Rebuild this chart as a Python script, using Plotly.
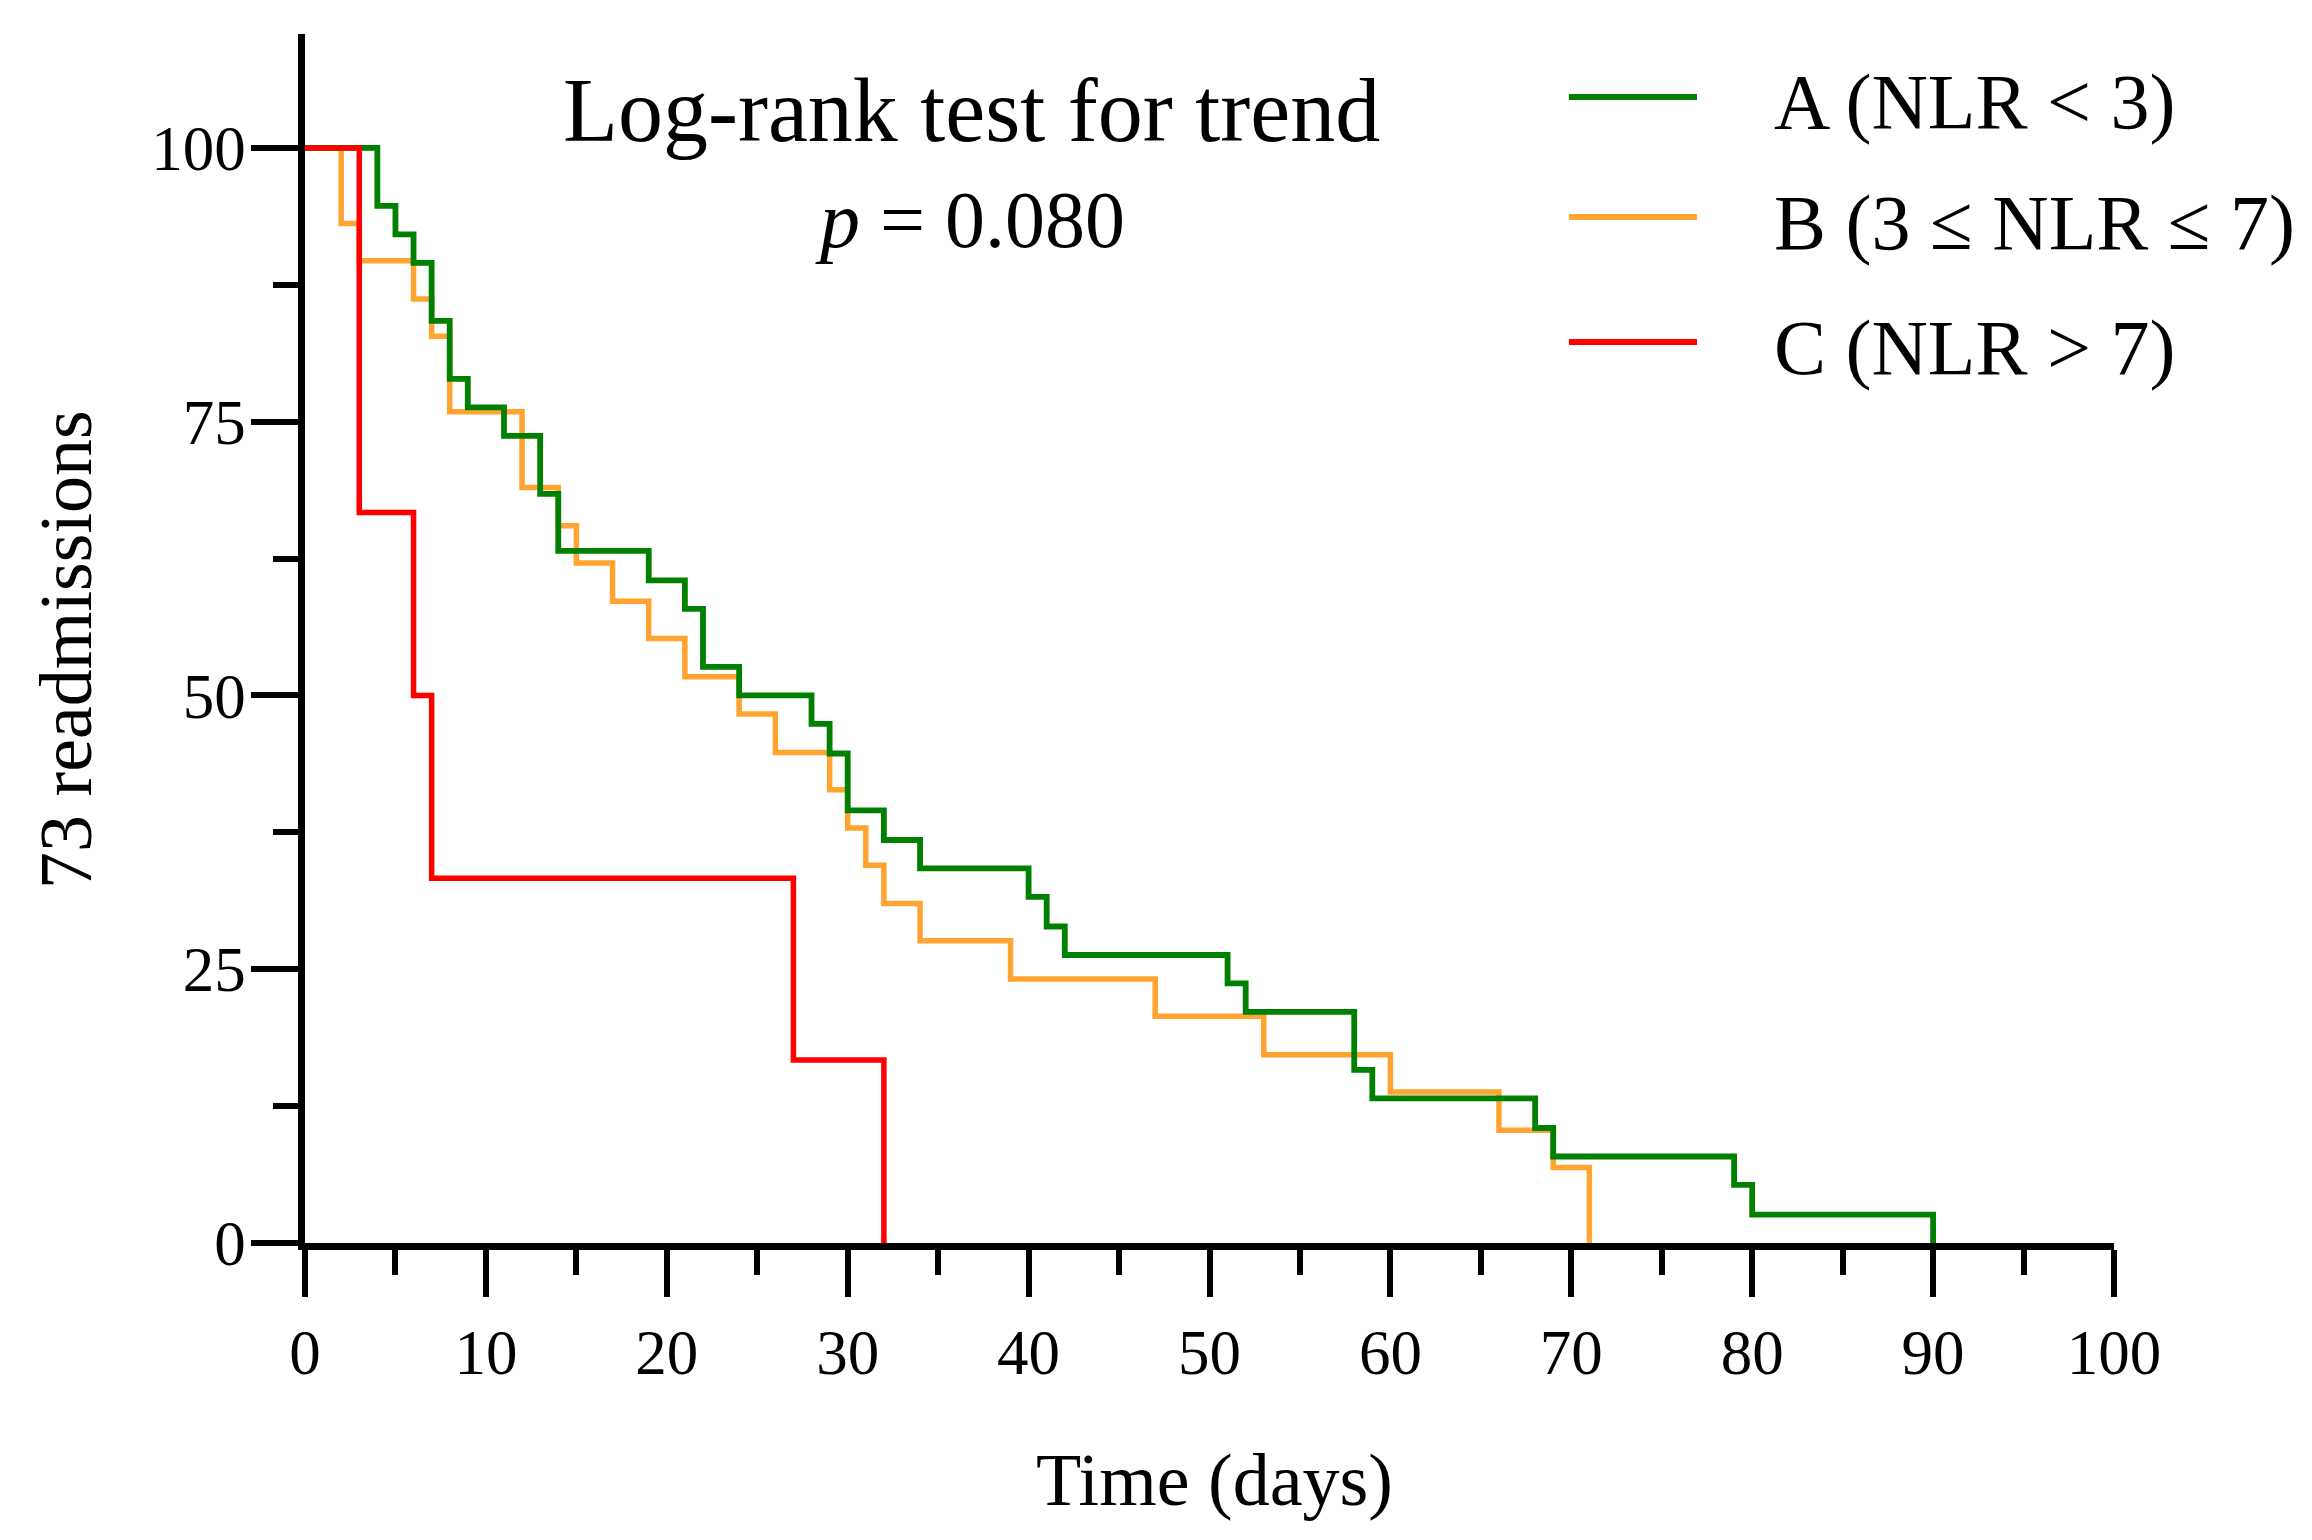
import plotly.graph_objects as go

# Kaplan-Meier style step data (time in days, % not yet readmitted)
tA = [0, 4, 5, 6, 7, 8, 9, 11, 13, 14, 19, 21, 22, 24, 28, 29, 30, 32, 34, 40, 41, 42, 51, 52, 58, 59, 68, 69, 79, 80, 90]
sA = [100, 94.7, 92.1, 89.5, 84.2, 78.9, 76.3, 73.7, 68.4, 63.2, 60.5, 57.9, 52.6, 50.0, 47.4, 44.7, 39.5, 36.8, 34.2,
      31.6, 28.9, 26.3, 23.7, 21.1, 15.8, 13.2, 10.5, 7.9, 5.3, 2.6, 0]

tB = [0, 2, 3, 6, 7, 8, 12, 14, 15, 17, 19, 21, 24, 26, 29, 30, 31, 32, 34, 39, 47, 53, 60, 66, 69, 71]
sB = [100, 93.1, 89.7, 86.2, 82.8, 75.9, 69.0, 65.5, 62.1, 58.6, 55.2, 51.7, 48.3, 44.8, 41.4, 37.9, 34.5, 31.0, 27.6,
      24.1, 20.7, 17.2, 13.8, 10.3, 6.9, 0]

tC = [0, 3, 6, 7, 27, 32]
sC = [100, 66.7, 50.0, 33.3, 16.7, 0]

names = ["A (NLR < 3)", "B (3 ≤ NLR ≤ 7)", "C (NLR > 7)"]
colors = ["#008000", "#FFA431", "#FF0000"]
widths = [5.8, 5.5, 5.5]

FONT = "Liberation Serif"

fig = go.Figure()
# draw order: B, A, C (A over B, C on top)
for idx, (t, s) in [(1, (tB, sB)), (0, (tA, sA)), (2, (tC, sC))]:
    fig.add_trace(go.Scatter(x=t, y=s, mode="lines", line_shape="hv",
                             line=dict(color=colors[idx], width=widths[idx]),
                             name=names[idx], showlegend=False))

# page is 2312x1540; the html body has an 8px margin, so the figure is 8px smaller
OFF = 8
W, H = 2312 - OFF, 1540 - OFF
L, R, T, B = 305, 2114, 34, 1243   # target plot-area edges in page pixels

def px(xp):
    return (xp - L) / (R - L)

def py(yp):
    return (B - yp) / (B - T)

# manual legend
legend_rows = [97, 217, 342]
for i, yp in enumerate(legend_rows):
    fig.add_shape(type="line", xref="paper", yref="paper",
                  x0=px(1569), x1=px(1697), y0=py(yp), y1=py(yp),
                  line=dict(color=colors[i], width=6))
    fig.add_annotation(xref="paper", yref="paper", x=px(1772), y=py(yp + 5),
                       xanchor="left", yanchor="middle", showarrow=False,
                       text=names[i], font=dict(family=FONT, size=78, color="black"))

fig.add_annotation(xref="paper", yref="paper", x=px(971), y=py(110),
                   xanchor="center", yanchor="middle", showarrow=False,
                   text="Log-rank test for trend", font=dict(family=FONT, size=90, color="black"))
fig.add_annotation(xref="paper", yref="paper", x=px(970), y=py(220),
                   xanchor="center", yanchor="middle", showarrow=False,
                   text="<i>p</i> = 0.080", font=dict(family=FONT, size=80, color="black"))

# axis titles
fig.add_annotation(xref="paper", yref="paper", x=px(66), y=py(649),
                   xanchor="center", yanchor="middle", showarrow=False, textangle=-90,
                   text="73 readmissions", font=dict(family=FONT, size=74, color="black"))
fig.add_annotation(xref="paper", yref="paper", x=px(1214), y=py(1480),
                   xanchor="center", yanchor="middle", showarrow=False,
                   text="Time (days)", font=dict(family=FONT, size=74, color="black"))

axis_common = dict(showgrid=False, zeroline=False, showline=True, linecolor="black", linewidth=6.5,
                   ticks="outside", ticklen=47, tickwidth=5.5, tickcolor="black",
                   tickfont=dict(family=FONT, size=63, color="black"))

fig.update_xaxes(range=[0, 100], tick0=0, dtick=10,
                 minor=dict(ticks="outside", ticklen=25, tickwidth=5.5, tickcolor="black", tick0=0, dtick=5),
                 ticklabelstandoff=2, **axis_common)
fig.update_yaxes(range=[0, 110.4], tick0=0, dtick=25,
                 minor=dict(ticks="outside", ticklen=25, tickwidth=5.5, tickcolor="black", tick0=0, dtick=12.5),
                 ticklabelstandoff=-7, **axis_common)

fig.update_layout(width=W, height=H, autosize=False,
                  margin=dict(l=L - OFF, r=2312 - R, t=T - OFF, b=1540 - B, pad=0),
                  plot_bgcolor="white", paper_bgcolor="white",
                  font=dict(family=FONT, color="black"), showlegend=False)

fig.write_html("out.html", config={"displayModeBar": False})
